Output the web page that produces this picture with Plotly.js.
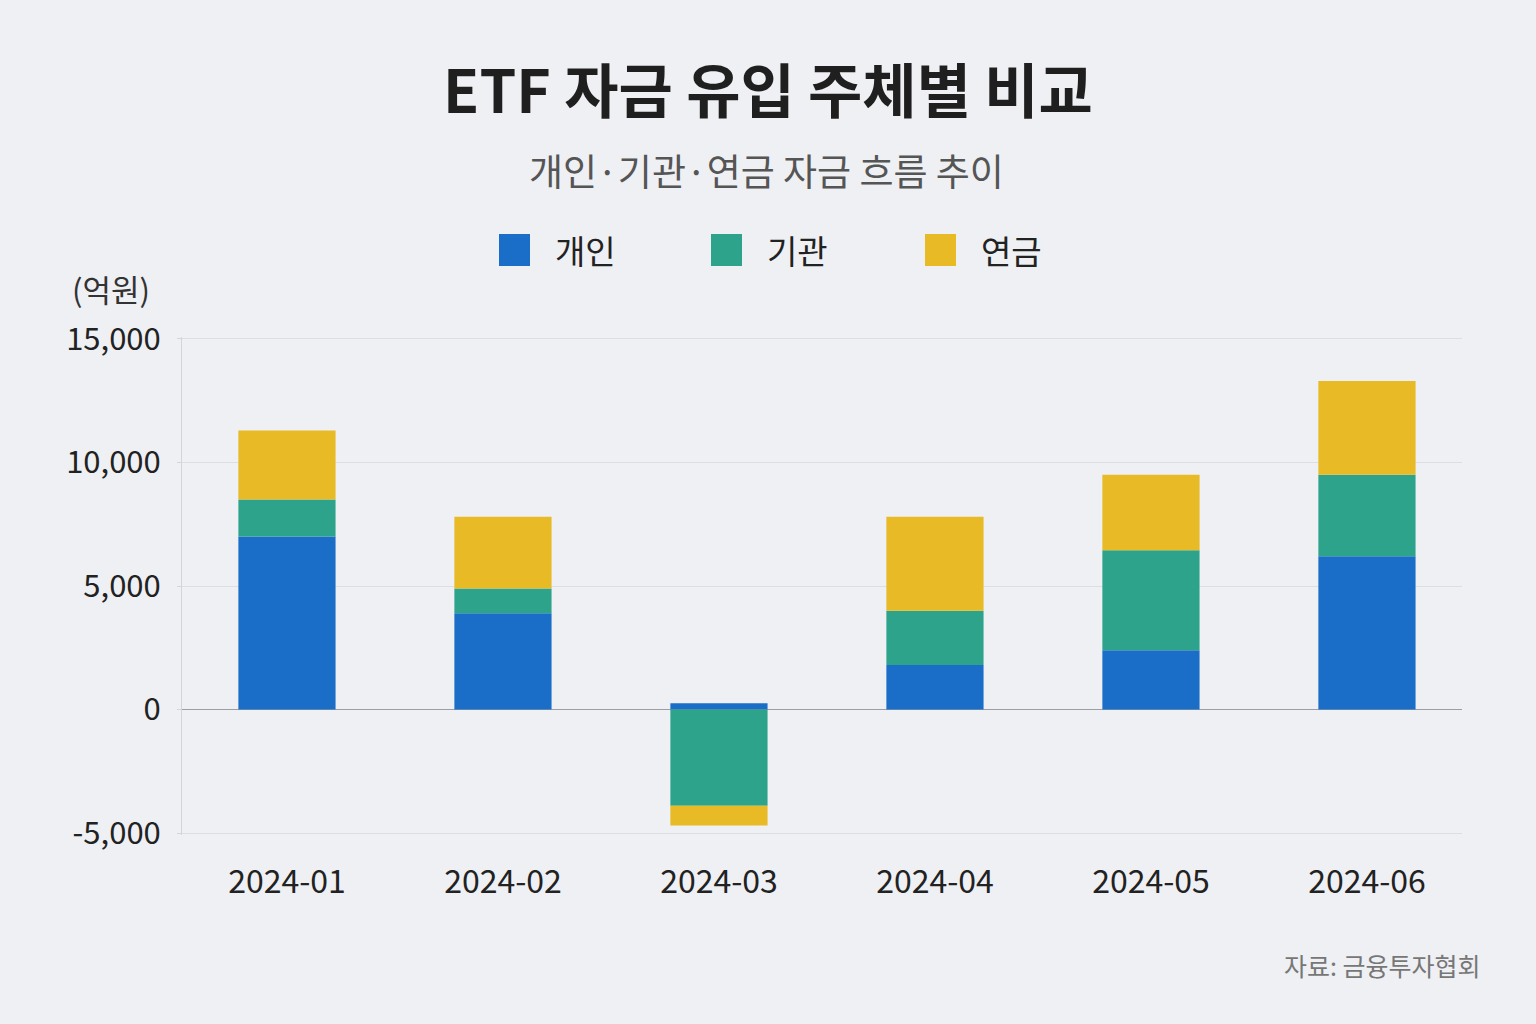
<!DOCTYPE html>
<html>
<head>
<meta charset="utf-8">
<script src="https://cdn.plot.ly/plotly-3.0.1.min.js"></script>
<style>
  html, body { margin: 0; padding: 0; background: #eef0f3; }
  #chart { width: 1536px; height: 1024px; }
</style>
</head>
<body>
<div id="chart"></div>
<script>
// ---- Data (억원) ----
const months = ['2024-01', '2024-02', '2024-03', '2024-04', '2024-05', '2024-06'];
const individual = [7000, 3900, 250, 1800, 2400, 6200];     // 개인
const institution = [1500, 1000, -3900, 2200, 4050, 3300];  // 기관
const pension = [2800, 2900, -800, 3800, 3050, 3800];       // 연금

const seriesNames = ['개인', '기관', '연금'];
const seriesColors = ['#1b6ec8', '#2ea38c', '#e7ba26'];

const yTickVals = [-5000, 0, 5000, 10000, 15000];
const yTickText = ['-5,000', '0', '5,000', '10,000', '15,000'];

// ---- Layout geometry ----
const W = 1536, H = 1024;
const L = 182, R = 74, T = 337, B = 189;
const plotW = W - L - R, plotH = H - T - B;
const px = x => (x - L) / plotW;
const py = y => (H - B - y) / plotH;

const FONT = '"Noto Sans CJK KR", "Noto Sans", sans-serif';

const seriesValues = [individual, institution, pension];
const traces = seriesValues.map((vals, i) => ({
  type: 'bar',
  name: seriesNames[i],
  x: months,
  y: vals,
  marker: { color: seriesColors[i], line: { width: 0 } },
  hoverinfo: 'x+y+name'
}));

// custom legend (large squares)
const legendX = [499, 711, 925];
const shapes = seriesNames.map((n, i) => ({
  type: 'rect', xref: 'paper', yref: 'paper',
  x0: px(legendX[i]), x1: px(legendX[i] + 31),
  y0: py(266), y1: py(234),
  fillcolor: seriesColors[i], line: { width: 0 }, layer: 'above'
}));

const annotations = seriesNames.map((n, i) => ({
  text: n, xref: 'paper', yref: 'paper',
  x: px(legendX[i] + 54), y: py(250),
  xanchor: 'left', yanchor: 'middle', showarrow: false,
  font: { family: FONT, size: 33, color: '#222222' }
}));

annotations.push({
  text: '개인·기관·연금 자금 흐름 추이',
  xref: 'paper', yref: 'paper', x: px(766), y: py(170),
  xanchor: 'center', yanchor: 'middle', showarrow: false,
  font: { family: FONT, size: 37, color: '#555555' }
});
annotations.push({
  text: '(억원)',
  xref: 'paper', yref: 'paper', x: px(111), y: py(288),
  xanchor: 'center', yanchor: 'middle', showarrow: false,
  font: { family: FONT, size: 31, color: '#333333' }
});
annotations.push({
  text: '자료: 금융투자협회',
  xref: 'paper', yref: 'paper', x: px(1483), y: py(965),
  xanchor: 'right', yanchor: 'middle', showarrow: false,
  font: { family: FONT, size: 25, color: '#777777' }
});

const layout = {
  width: W, height: H,
  paper_bgcolor: '#eef0f3',
  plot_bgcolor: '#eef0f3',
  margin: { l: L, r: R, t: T, b: B, pad: 0 },
  barmode: 'relative',
  bargap: 0.55,
  showlegend: false,
  font: { family: FONT, color: '#222222' },
  title: {
    text: '<b>ETF 자금 유입 주체별 비교</b>',
    xref: 'container', x: 0.5, xanchor: 'center',
    yref: 'container', y: 1 - 92 / H, yanchor: 'middle',
    font: { family: FONT, size: 59, color: '#1f1f1f' }
  },
  xaxis: {
    type: 'category',
    range: [-0.486, 5.44],
    showgrid: false,
    showline: false,
    zeroline: false,
    ticks: '',
    ticklabelstandoff: 25,
    tickfont: { family: FONT, size: 32, color: '#222222' }
  },
  yaxis: {
    range: [-5080, 15080],
    tickvals: yTickVals,
    ticktext: yTickText,
    showgrid: true,
    gridcolor: '#dcdee2',
    gridwidth: 1,
    zeroline: true,
    zerolinecolor: '#9c9ea3',
    zerolinewidth: 1.5,
    showline: true,
    linecolor: '#d3d5d9',
    linewidth: 1,
    ticks: 'outside',
    ticklen: 4,
    tickcolor: '#d3d5d9',
    ticklabelstandoff: 10,
    tickfont: { family: FONT, size: 31, color: '#222222' }
  },
  shapes: shapes,
  annotations: annotations
};

Plotly.newPlot('chart', traces, layout, { displayModeBar: false, staticPlot: true });
</script>
</body>
</html>
